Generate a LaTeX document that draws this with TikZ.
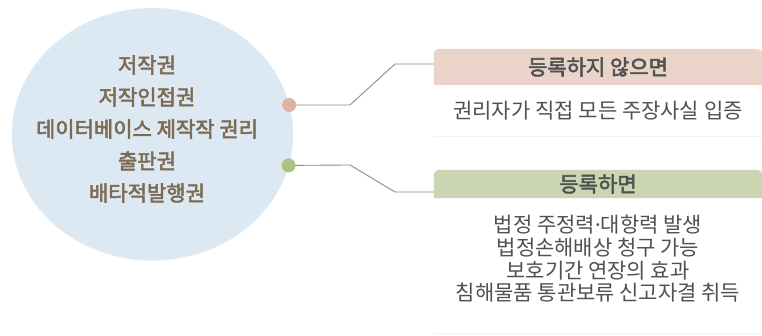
\documentclass[tikz,border=0pt]{standalone}
\usepackage{fontspec}
\setmainfont{Noto Sans CJK KR}
\newfontfamily\midkr{Noto Sans CJK KR}[FakeBold=2.5]
\newfontfamily\dotfont{Noto Sans}
\usetikzlibrary{positioning,shapes.geometric,shadows,backgrounds}

\definecolor{circfill}{HTML}{DCE9F3}
\definecolor{circtext}{HTML}{7D6A52}
\definecolor{pinkdot}{HTML}{DDB3A1}
\definecolor{greendot}{HTML}{AFC285}
\definecolor{pinkhdr}{HTML}{EAD4CA}
\definecolor{greenhdr}{HTML}{CAD5B1}
\definecolor{boxtext}{HTML}{505050}
\definecolor{wire}{HTML}{8C8C8C}

\begin{document}
\begin{tikzpicture}[x=1pt, y=-1pt, font=\fontsize{21}{23}\selectfont,
  rights/.style = {ellipse, fill=circfill, minimum width=281pt, minimum height=252pt, inner sep=0pt, outer sep=0pt,
    drop shadow={shadow xshift=0pt, shadow yshift=-1pt, opacity=0.10}},
  dot/.style = {circle, minimum size=14pt, inner sep=0pt},
  hdr/.style = {minimum width=328pt, inner sep=0pt, text=boxtext, font=\fontsize{21}{23}\selectfont\midkr},
  body/.style = {align=center, text=boxtext, inner sep=0pt},
  wire/.style = {draw=wire, line width=0.9pt},
  card/.style = {fill=white, drop shadow={shadow xshift=0pt, shadow yshift=-1pt, opacity=0.10}}]

\useasboundingbox (0,0) rectangle (762,336);

% left circle
\node[rights] (rights) at (152.5,134) {};
\node[align=center, text=circtext, font=\fontsize{21}{32}\selectfont\midkr] (names) at (147,129)
  {저작권\\저작인접권\\데이터베이스 제작작 권리\\출판권\\배타적발행권};

% headers
\node[hdr, minimum height=36pt] (hdrA) at (598,67) {등록하지 않으면};
\node[hdr, minimum height=28pt] (hdrB) at (598,184) {등록하면};

% bodies
\node[body] (bodyA) at (598,111) {권리자가 직접 모든 주장사실 입증};
\node[body, font=\fontsize{21}{22.7}\selectfont] (bodyB) at (598,259)
  {법정 주정력{\dotfont ·}대항력 발생\\법정손해배상 청구 가능\\보호기간 연장의 효과\\침해물품 통관보류 신고자결 취득};

\begin{scope}[on background layer]
  \fill[card] (hdrA.north west) rectangle (762,136);
  \fill[card] (hdrB.north west) rectangle (762,333);
  \fill[pinkhdr] (hdrA.south west) {[rounded corners=5pt] -- (hdrA.north west) -- (hdrA.north east)} -- (hdrA.south east) -- cycle;
  \fill[greenhdr] (hdrB.south west) {[rounded corners=5pt] -- (hdrB.north west) -- (hdrB.north east)} -- (hdrB.south east) -- cycle;
\end{scope}

% connectors
\coordinate (kneeA) at (350,105);
\coordinate (elbowA) at (395,64);
\coordinate (kneeB) at (350,165);
\coordinate (elbowB) at (395,192);

\draw[wire] (rights.12) -- (kneeA) -- (elbowA) -- (elbowA -| hdrA.west);
\draw[wire] (rights.-13) -- (kneeB) -- (elbowB) -- (elbowB -| hdrB.west);

\node[dot, fill=pinkdot] (dotA) at (rights.12) {};
\node[dot, fill=greendot] (dotB) at (rights.-13) {};

\end{tikzpicture}
\end{document}
